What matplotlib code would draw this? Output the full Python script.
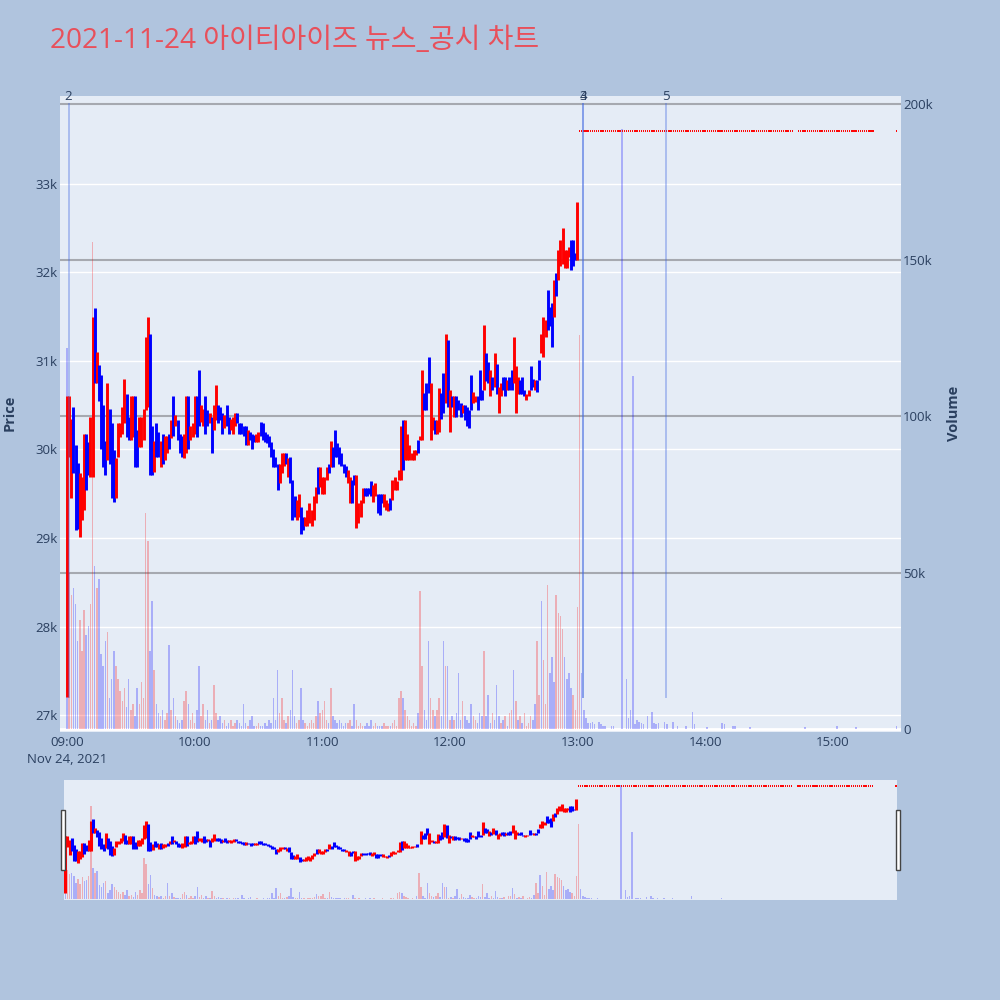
import matplotlib
matplotlib.use('Agg')
import matplotlib.pyplot as plt
from matplotlib.patches import Rectangle

plt.rcParams['font.family'] = ['Open Sans', 'Noto Sans CJK KR', 'DejaVu Sans']

title = "2021-11-24 아이티아이즈 뉴스_공시 차트"

# per-minute candles from 09:00 (index = minutes after 09:00)
low_px = [27200, 29920, 29450, 29730, 29090, 29100, 29010, 29200, 29320, 29540,
          29710, 29690, 29690, 30750, 30750, 30550, 30010, 29800, 29710, 29880,
          29840, 29450, 29410, 29450, 29920, 30140, 30180, 30300, 30140, 30110,
          30110, 30140, 29800, 29800, 30030, 30030, 30110, 30450, 30480, 29710,
          29710, 29750, 29920, 29920, 29800, 29840, 29880, 29960, 30000, 30130,
          30150, 30260, 30110, 29960, 29920, 29900, 29960, 30010, 30110, 30140,
          30180, 30140, 30260, 30310, 30260, 30180, 30260, 30300, 29960, 30220,
          30330, 30300, 30330, 30180, 30240, 30260, 30180, 30220, 30180, 30260,
          30300, 30180, 30180, 30150, 30050, 30050, 30110, 30000, 30090, 30090,
          30090, 30150, 30110, 30090, 30070, 30030, 29920, 29800, 29800, 29540,
          29620, 29730, 29810, 29840, 29690, 29620, 29200, 29240, 29200, 29240,
          29050, 29090, 29130, 29130, 29170, 29130, 29200, 29390, 29500, 29580,
          29500, 29500, 29650, 29730, 29800, 29800, 29920, 29920, 29840, 29810,
          29730, 29690, 29620, 29390, 29390, 29600, 29110, 29170, 29240, 29390,
          29470, 29470, 29500, 29470, 29410, 29470, 29280, 29260, 29390, 29350,
          29320, 29300, 29320, 29430, 29540, 29540, 29650, 29650, 29770, 29880,
          29880, 29880, 29880, 29880, 29940, 29960, 30110, 30110, 30450, 30450,
          30640, 30110, 30220, 30180, 30180, 30200, 30350, 30410, 30520, 30480,
          30200, 30480, 30370, 30370, 30450, 30370, 30410, 30330, 30260, 30240,
          30450, 30520, 30540, 30450, 30560, 30560, 30670, 30770, 30750, 30600,
          30670, 30710, 30630, 30410, 30600, 30670, 30600, 30670, 30670, 30670,
          30750, 30410, 30630, 30630, 30630, 30600, 30560, 30600, 30670, 30710,
          30670, 30650, 30780, 31090, 31050, 31270, 31350, 31390, 31160, 31500,
          31730, 31910, 32070, 32100, 32050, 32050, 32180, 32030, 32070, 32140,
          32140]
high_px = [30600, 30600, 30350, 30480, 30050, 29850, 29730, 29690, 30180, 30180,
           30090, 30370, 31500, 31600, 31100, 30950, 30840, 30500, 30100, 30750,
           30460, 30300, 29990, 29900, 30300, 30300, 30480, 30800, 30630, 30370,
           30600, 30600, 30600, 30220, 30370, 30370, 30460, 31270, 31500, 31300,
           30260, 30100, 30300, 30200, 30100, 30180, 30150, 30150, 30180, 30330,
           30600, 30390, 30330, 30180, 30150, 30180, 30600, 30600, 30260, 30300,
           30600, 30600, 30900, 30500, 30460, 30600, 30450, 30410, 30370, 30500,
           30730, 30500, 30480, 30410, 30390, 30500, 30370, 30350, 30370, 30410,
           30410, 30300, 30300, 30260, 30260, 30220, 30200, 30180, 30160, 30180,
           30200, 30310, 30300, 30200, 30180, 30150, 30090, 30000, 29920, 29840,
           29840, 29960, 29960, 29960, 29900, 29920, 29650, 29470, 29430, 29500,
           29350, 29240, 29240, 29320, 29390, 29320, 29470, 29580, 29800, 29800,
           29690, 29690, 29800, 29840, 30100, 30030, 30220, 30070, 30030, 29960,
           29840, 29810, 29770, 29690, 29650, 29710, 29710, 29390, 29430, 29560,
           29560, 29560, 29560, 29640, 29600, 29620, 29500, 29500, 29500, 29500,
           29430, 29390, 29450, 29650, 29690, 29640, 29770, 30260, 30330, 30330,
           30180, 30050, 29960, 29990, 29990, 30110, 30150, 30900, 30640, 30750,
           31050, 30750, 30370, 30330, 30330, 30690, 30640, 30860, 31300, 31240,
           30670, 30600, 30600, 30600, 30560, 30520, 30500, 30500, 30480, 30450,
           30840, 30650, 30600, 30600, 30900, 30670, 31410, 31090, 30990, 30900,
           30820, 31090, 30970, 30710, 30750, 30820, 30820, 30790, 30820, 30900,
           31270, 30940, 30820, 30790, 30820, 30670, 30630, 30670, 30940, 30800,
           30790, 30790, 31010, 31310, 31500, 31460, 31800, 31610, 31650, 31910,
           31990, 32250, 32370, 32500, 32250, 32250, 32290, 32370, 32370, 32220,
           32800]
direction = ("rrrbbbrrrbbrrbrbbbbrbbbrrrrrbbrrbbrrrrrbbrbbrbrrbrbrbbbrrbrrrbbrrbbrbrrbbbrbbr"
             "rrbbbbbrbbbrrbbbbbbbbbrrrbrbbbrrbbrrrrrrbrrrrbrbbbbbbbrrbbrrrrbbbbrrbbbrrrbrr"
             "rrrbrrrrrrbrrbbbrrbrrbbrbrbrbbbrbbbbrrbbbrbbrbrbrrbbrbbrrrbbbrrbbrbbrrrbbbrbr"
             "rr")

volume_k = [122, 50, 43, 45, 40, 28, 35, 25, 38, 30,
            33, 40, 156, 52, 45, 48, 24, 20, 28, 31,
            10, 16, 25, 20, 16, 12, 9, 13, 7, 16,
            6, 8, 4, 13, 8, 15, 10, 69, 60, 25,
            41, 19, 8, 5, 4, 6, 3, 5, 27, 6,
            10, 4, 3, 2, 3, 9, 12, 8, 3, 5,
            2, 6, 20, 4, 8, 3, 6, 2, 3, 14,
            5, 3, 4, 2, 3, 1, 2, 3, 1, 2,
            3, 2, 1, 8, 2, 1, 3, 4, 1, 1,
            2, 1, 1, 2, 1, 3, 2, 10, 3, 19,
            5, 10, 3, 2, 4, 6, 19, 4, 2, 3,
            13, 3, 2, 1, 2, 3, 2, 4, 9, 5,
            6, 9, 3, 2, 13, 4, 3, 2, 3, 2,
            1, 2, 2, 3, 1, 8, 3, 1, 2, 1,
            1, 2, 1, 3, 1, 2, 1, 1, 1, 2,
            1, 1, 1, 2, 3, 1, 10, 12, 10, 6,
            4, 3, 1, 2, 1, 5, 44, 20, 6, 3,
            28, 10, 6, 4, 6, 10, 4, 28, 20, 20,
            3, 4, 3, 5, 18, 3, 9, 4, 3, 2,
            8, 4, 3, 2, 5, 4, 25, 4, 11, 2,
            5, 3, 14, 4, 2, 3, 4, 1, 5, 6,
            19, 9, 3, 4, 2, 5, 1, 2, 4, 3,
            8, 28, 11, 41, 22, 8, 46, 18, 23, 15,
            43, 37, 36, 32, 23, 16, 18, 13, 11, 6,
            39]
vol_dir = ("b" + direction[1:196]
           + "rbbbrbbbrb" + "rbrrbrbrbr" + "rrrbbrrbrr" + "rbbbrrrrbb" + "bbrrr")

# after 13:00: flat candles and their volumes
flat_price = 33600
flat_minutes = [(241, 341), (344, 379), (390, 390)]
after_minutes = [241, 242, 243, 244, 245, 246, 247, 248, 250, 251, 252, 253, 256, 257,
                 261, 263, 264, 265, 266, 267, 268, 269, 270, 271, 273, 275, 276, 277,
                 278, 281, 282, 285, 287, 291, 294, 295, 301, 308, 309, 313, 314, 321,
                 347, 362, 371, 390]
after_vol_k = [126, 18, 6, 3.5, 2, 2, 2.3, 1.5, 2.3, 1.5, 1, 1, 1, 1,
               192, 16, 3.5, 6, 113, 1.5, 2.8, 2.3, 1.8, 1.5, 4, 5.5, 1.8, 1.5,
               1.8, 2.3, 1.5, 2.3, 0.8, 0.8, 5.5, 1.5, 0.6, 1.8, 1.5, 1, 0.8, 0.6,
               0.5, 1, 0.5, 0.8]
after_vol_dir = "r" + "b" * 45

news_times = ["09:01", "13:03", "13:03", "13:42"]
news_labels = ["2", "3", "4", "5"]

hour_labels = ["09:00", "10:00", "11:00", "12:00", "13:00", "14:00", "15:00"]
price_ticks = [27000, 28000, 29000, 30000, 31000, 32000, 33000]
vol_ticks = [0, 50, 100, 150, 200]

# ---------------------------------------------------------------
TXT = '#2a3f5f'
RED = '#ff0000'
BLUE = '#0000ff'
VRED = (1.0, 0.0, 0.0, 0.26)
VBLUE = (0.0, 0.0, 1.0, 0.26)

def tmin(s):
    h, m = s.split(':')
    return (int(h) - 9) * 60 + int(m)

n = len(low_px)
t_c = list(range(n))
t_all = t_c + after_minutes
v_all = volume_k + after_vol_k
vc_all = [VRED if c == 'r' else VBLUE for c in vol_dir + after_vol_dir]
c_col = [RED if c == 'r' else BLUE for c in direction]
flat_t = []
for a, b in flat_minutes:
    flat_t += list(range(a, b + 1))

fig = plt.figure(figsize=(10, 10), dpi=100, facecolor='#B0C4DE')

PMIN, PMAX = 26808, 33994
VMIN, VMAX = -1.0, 202.6

ax_v = fig.add_axes([0.060, 0.268, 0.841, 0.636])
ax_v.set_facecolor('#E5ECF6')
ax_v.set_xlim(-3.3, 392.1)
ax_v.set_ylim(VMIN, VMAX)
for s in ax_v.spines.values():
    s.set_visible(False)
for p in price_ticks:
    f = (p - PMIN) / (PMAX - PMIN)
    ax_v.plot([0, 1], [f, f], transform=ax_v.transAxes, color='white', lw=1.0, zorder=0.5)
for v in vol_ticks[1:]:
    ax_v.axhline(v, color='#a6a9b0', lw=1.5, zorder=0.6)
ax_v.axhline(0, color='white', lw=2, zorder=0.7)
ax_v.bar(t_all, v_all, width=0.7, color=vc_all, zorder=2, linewidth=0)

ax_p = ax_v.twinx()
ax_p.set_ylim(PMIN, PMAX)
ax_p.set_xlim(-3.3, 392.1)
for s in ax_p.spines.values():
    s.set_visible(False)

ax_v.yaxis.tick_right()
ax_v.set_yticks(vol_ticks)
ax_v.set_yticklabels(['0', '50k', '100k', '150k', '200k'])
ax_v.tick_params(axis='y', length=0, pad=1.5, labelsize=9.5, labelcolor=TXT,
                 left=False, labelleft=False, right=True, labelright=True)
ax_v.set_xticks([tmin(h) for h in hour_labels])
xl = list(hour_labels)
xl[0] = "09:00\nNov 24, 2021"
ax_v.set_xticklabels(xl, linespacing=1.35)
ax_v.tick_params(axis='x', length=0, pad=3, labelsize=9.5, labelcolor=TXT)

ax_p.yaxis.tick_left()
ax_p.set_yticks(price_ticks)
ax_p.set_yticklabels([f"{p // 1000}k" for p in price_ticks])
ax_p.tick_params(axis='y', length=0, pad=1.5, labelsize=9.5, labelcolor=TXT,
                 left=True, labelleft=True, right=False, labelright=False)
ax_p.vlines(t_c, low_px, high_px, colors=c_col, lw=2.1, zorder=3)
ax_p.hlines([flat_price] * len(flat_t), [t - 0.3 for t in flat_t], [t + 0.3 for t in flat_t],
            colors=RED, lw=1.4, zorder=3)

f_lo = (27200 - PMIN) / (PMAX - PMIN)
for tt, lab in zip(news_times, news_labels):
    x = tmin(tt) - 0.3
    ax_p.plot([x, x], [f_lo, 0.987], transform=ax_p.get_xaxis_transform(),
              color='royalblue', alpha=0.36, lw=1.4, zorder=4)
    ax_p.text(x, 1.0, lab, transform=ax_p.get_xaxis_transform(), ha='center', va='center',
              fontsize=9.5, color=TXT, zorder=5)

fig.text(0.010, 0.587, 'Price', rotation=90, ha='center', va='center',
         fontsize=10.5, fontweight='bold', color=TXT)
fig.text(0.954, 0.587, 'Volume', rotation=90, ha='center', va='center',
         fontsize=10.5, fontweight='bold', color=TXT)
fig.text(0.050, 0.959, title, ha='left', va='center', fontsize=20.2,
         color='#E8505B', family=['Open Sans', 'Noto Sans CJK KR', 'DejaVu Sans'])

# range slider
ax_s = fig.add_axes([0.064, 0.100, 0.833, 0.120])
ax_s.set_facecolor('#E5ECF6')
ax_s.set_xlim(-0.6, 390.5)
ax_s.set_ylim(-1, 200)
ax_s.set_xticks([]); ax_s.set_yticks([])
for s in ax_s.spines.values():
    s.set_visible(False)
ax_s.bar(t_all, v_all, width=0.7, color=vc_all, linewidth=0, zorder=2)
ax_sp = ax_s.twinx()
ax_sp.set_ylim(26783, 33940)
ax_sp.set_xlim(-0.6, 390.5)
ax_sp.set_yticks([])
for s in ax_sp.spines.values():
    s.set_visible(False)
ax_sp.vlines(t_c, low_px, high_px, colors=c_col, lw=2.2, zorder=3)
ax_sp.hlines([flat_price] * len(flat_t), [t - 0.3 for t in flat_t], [t + 0.3 for t in flat_t],
             colors=RED, lw=1.4, zorder=3)

for hx in (0.0605, 0.8955):
    fig.patches.append(Rectangle((hx, 0.130), 0.0045, 0.060, transform=fig.transFigure,
                                 facecolor='white', edgecolor='#444444', lw=1.0, zorder=10))

fig.savefig('out.png', dpi=100, facecolor=fig.get_facecolor())
